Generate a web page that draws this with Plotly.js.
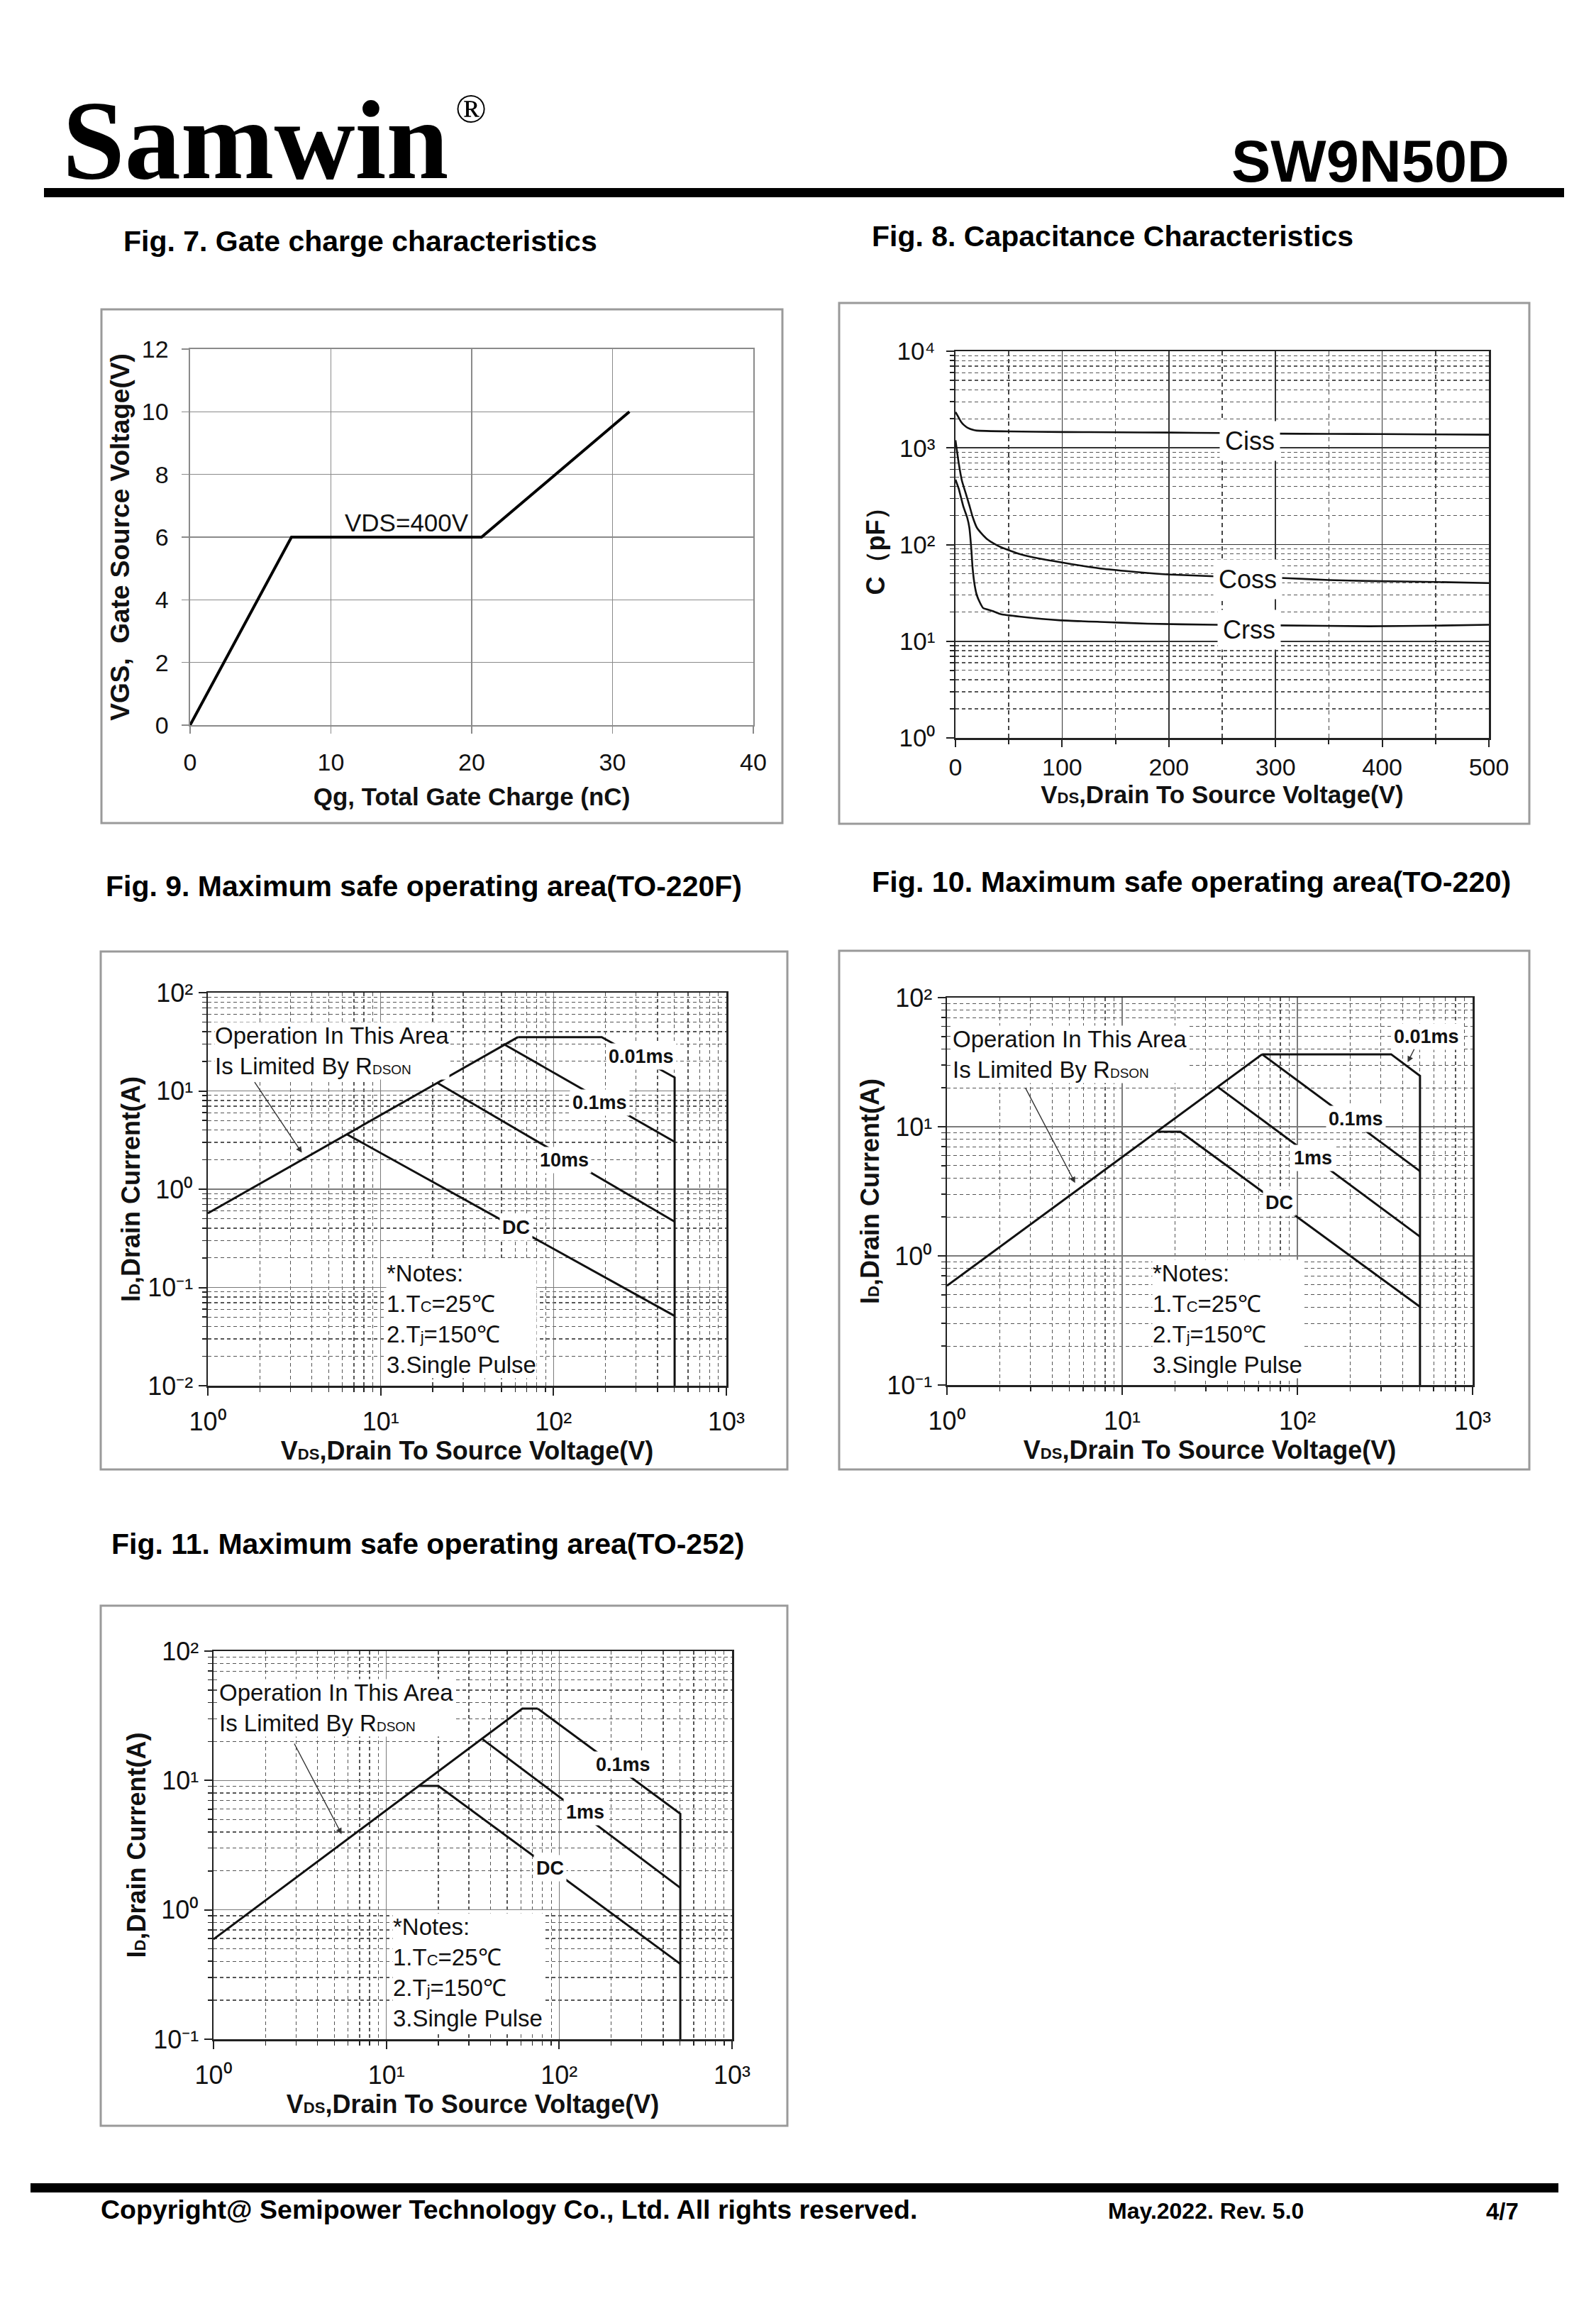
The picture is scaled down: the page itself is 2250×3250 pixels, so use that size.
<!DOCTYPE html>
<html><head><meta charset="utf-8">
<script src="https://cdn.plot.ly/plotly-3.0.1.min.js"></script>
<style>html,body{margin:0;padding:0;background:#fff}</style>
</head><body><div id="chart" style="width:2250px;height:3250px"></div>
<script>
// ---------------- DATA ----------------
// Fig. 7 Gate charge
const fig7_qg  = [0, 7.2, 20.7, 31.2];
const fig7_vgs = [0, 6, 6, 10];
const fig7_xticks = [0, 10, 20, 30, 40];
const fig7_yticks = [0, 2, 4, 6, 8, 10, 12];
const fig7_label = {text: 'VDS=400V', x: 15.4, y: 6.46};

// Fig. 8 Capacitance
const fig8_v_ciss = [0, 2, 5, 8, 12, 17, 20, 50, 100, 150, 200, 250, 300, 350, 400, 450, 500];
const fig8_ciss   = [2350, 2150, 1880, 1720, 1600, 1530, 1510, 1480, 1460, 1450, 1440, 1425, 1405, 1395, 1390, 1380, 1370];
const fig8_v_coss = [0, 3, 6, 9.6, 13, 16, 20, 25, 30, 40, 47, 60, 72, 97, 120, 139, 170, 201, 243, 280, 309, 350, 388, 450, 500];
const fig8_coss   = [1200, 700, 460, 340, 255, 195, 150, 128, 113, 97, 90, 80, 74, 66, 60, 56, 52, 49, 47, 46, 45, 43, 42, 41, 40];
const fig8_v_crss = [0, 3, 7.5, 11, 13, 15, 16, 18, 20, 23, 26, 35, 43, 60, 97, 140, 180, 243, 300, 388, 450, 500];
const fig8_crss   = [470, 380, 245, 190, 150, 85, 58, 38, 30, 25, 22, 20.5, 19, 18, 16.5, 15.8, 15.2, 14.8, 14.6, 14.3, 14.5, 14.8];
const fig8_xticks = [0, 100, 200, 300, 400, 500];
const fig8_xminor = [50, 150, 250, 350, 450];
const fig8_yticks = [1, 10, 100, 1000, 10000];
const fig8_yticktext = ['10⁰', '10¹', '10²', '10³', '10⁴'];
const fig8_labels = [
  {text: 'Ciss', v: 276, c: 1175},
  {text: 'Coss', v: 274, c: 43.8},
  {text: 'Crss', v: 275, c: 13.1}
];

// SOA common ticks
const soa_xticks = [1, 10, 100, 1000];
const soa_xticktext = ['10⁰', '10¹', '10²', '10³'];
const fig9_yticks = [0.01, 0.1, 1, 10, 100];
const fig9_yticktext = ['10⁻²', '10⁻¹', '10⁰', '10¹', '10²'];
const fig10_yticks = [0.1, 1, 10, 100];
const fig10_yticktext = ['10⁻¹', '10⁰', '10¹', '10²'];

// Fig. 9 SOA TO-220F  (V, A)
const fig9_rds_v   = [1, 62.3];          const fig9_rds_i   = [0.569, 35.3];
const fig9_p001_v  = [62.3, 190, 502, 502]; const fig9_p001_i = [35.3, 35.3, 13.7, 0.01];
const fig9_p01_v   = [51.3, 502];        const fig9_p01_i   = [30.1, 3.03];
const fig9_p10_v   = [21.3, 502];        const fig9_p10_i   = [12.06, 0.467];
const fig9_dc_v    = [6.41, 502];        const fig9_dc_i    = [3.6, 0.0513];
const fig9_labels  = [
  {text: '0.01ms', v: 323, i: 22.3},
  {text: '0.1ms',  v: 185, i: 7.57},
  {text: '10ms',   v: 115.6, i: 1.98},
  {text: 'DC',     v: 60.5, i: 0.405}
];
const fig9_oper  = {v: 1.09, i: 25.4};
const fig9_arrow = {v0: 1.83, i0: 12.9, v1: 3.5, i1: 2.35};
const fig9_notes = {v: 10.7, i: 0.0478};

// Fig. 10 SOA TO-220
const fig10_rds_v  = [1, 62.9];              const fig10_rds_i  = [0.587, 36.4];
const fig10_p001_v = [62.9, 343, 501, 501];  const fig10_p001_i = [36.4, 36.4, 24.8, 0.1];
const fig10_p01_v  = [62.9, 501];            const fig10_p01_i  = [36.4, 4.53];
const fig10_p1_v   = [35.0, 501];            const fig10_p1_i   = [20.4, 1.41];
const fig10_dc_v   = [16.1, 21.5, 501];      const fig10_dc_i   = [9.16, 9.16, 0.403];
const fig10_labels = [
  {text: '0.01ms', v: 547, i: 50.1},
  {text: '0.1ms',  v: 215, i: 11.5},
  {text: '1ms',    v: 123, i: 5.7},
  {text: 'DC',     v: 78.5, i: 2.59}
];
const fig10_oper   = {v: 1.07, i: 36.3};
const fig10_arrow  = {v0: 2.75, i0: 21.0, v1: 5.39, i1: 3.67};
const fig10_arrow2 = {v0: 473, i0: 41.9, v1: 426, i1: 31.6};
const fig10_notes  = {v: 14.8, i: 0.324};

// Fig. 11 SOA TO-252
const fig11_rds_v  = [1, 61.2, 75.2];        const fig11_rds_i  = [0.593, 35.9, 35.9];
const fig11_p01_v  = [75.2, 502, 502];       const fig11_p01_i  = [35.9, 5.53, 0.1];
const fig11_p1_v   = [36.1, 502];            const fig11_p1_i   = [20.8, 1.48];
const fig11_dc_v   = [15.4, 20.0, 502];      const fig11_dc_i   = [9.07, 9.07, 0.382];
const fig11_labels = [
  {text: '0.1ms', v: 234, i: 13.3},
  {text: '1ms',   v: 142, i: 5.7},
  {text: 'DC',    v: 88.7, i: 2.10}
];
const fig11_oper  = {v: 1.07, i: 36.2};
const fig11_arrow = {v0: 2.88, i0: 20.2, v1: 5.51, i1: 3.85};
const fig11_notes = {v: 10.8, i: 0.327};

const small = (t, s) => '<span style="font-size:' + s + 'px">' + t + '</span>';
const operText  = 'Operation In This Area<br>Is Limited By R' + small('DSON', 19);
const notesText = '*Notes:<br>1.T' + small('C', 22) + '=25℃<br>2.T' + small('j', 22) + '=150℃<br>3.Single Pulse';
const vdsTitle  = '<b>V' + small('DS', 22) + ',Drain To Source Voltage(V)</b>';
const idTitle   = '<b>I' + small('D', 22) + ',Drain Current(A)</b>';

// ---------------- LAYOUT HELPERS ----------------
const W = 2250, H = 3250;
const px = x => x / W;
const py = y => 1 - y / H;
const L = Math.log10;
const FONT = 'Arial, "Liberation Sans", Helvetica, sans-serif';

function minorLog(lo, hi) {
  const out = [];
  for (let e = lo; e < hi; e++) for (let k = 2; k <= 9; k++) out.push(k * Math.pow(10, e));
  return out;
}

function logAxis(domain, range, tickvals, ticktext, anchor, title, standoff, labelStandoff, majorGrid, tsize) {
  return {
    type: 'log', domain: domain, range: range, anchor: anchor,
    tickmode: 'array', tickvals: tickvals, ticktext: ticktext,
    tickfont: {size: tsize || 34, color: '#111', family: FONT},
    showgrid: true, gridcolor: majorGrid || '#7a7a7a', gridwidth: 1.6,
    minor: {tickmode: 'array', tickvals: minorLog(Math.round(range[0]), Math.round(range[1])),
            showgrid: true, gridcolor: '#555', gridwidth: 1.3, griddash: '5px,4px',
            ticks: 'outside', ticklen: 6, tickcolor: '#222', tickwidth: 1.5},
    showline: true, mirror: true, linecolor: '#222', linewidth: 2.5,
    ticks: 'outside', ticklen: 11, tickcolor: '#222', tickwidth: 2,
    ticklabelstandoff: labelStandoff,
    zeroline: false,
    title: {text: title, font: {size: 36, family: FONT, color: '#111'}, standoff: standoff}
  };
}

function line(x, y, xa, ya, w) {
  return {x: x, y: y, xaxis: xa, yaxis: ya, type: 'scatter', mode: 'lines',
          line: {color: '#111', width: w || 3}, showlegend: false, hoverinfo: 'skip'};
}

const traces = [
  // Fig 7
  {x: fig7_qg, y: fig7_vgs, xaxis: 'x', yaxis: 'y', type: 'scatter', mode: 'lines',
   line: {color: '#000', width: 4}, showlegend: false, hoverinfo: 'skip'},
  // Fig 8
  Object.assign(line(fig8_v_ciss, fig8_ciss, 'x2', 'y2', 2.6), {line: {color: '#111', width: 2.6, shape: 'spline', smoothing: 0.5}}),
  Object.assign(line(fig8_v_coss, fig8_coss, 'x2', 'y2', 2.6), {line: {color: '#111', width: 2.6, shape: 'spline', smoothing: 0.5}}),
  Object.assign(line(fig8_v_crss, fig8_crss, 'x2', 'y2', 2.6), {line: {color: '#111', width: 2.6, shape: 'spline', smoothing: 0.4}}),
  // Fig 9
  line(fig9_rds_v, fig9_rds_i, 'x3', 'y3'),
  line(fig9_p001_v, fig9_p001_i, 'x3', 'y3'),
  line(fig9_p01_v, fig9_p01_i, 'x3', 'y3'),
  line(fig9_p10_v, fig9_p10_i, 'x3', 'y3'),
  line(fig9_dc_v, fig9_dc_i, 'x3', 'y3'),
  // Fig 10
  line(fig10_rds_v, fig10_rds_i, 'x4', 'y4'),
  line(fig10_p001_v, fig10_p001_i, 'x4', 'y4'),
  line(fig10_p01_v, fig10_p01_i, 'x4', 'y4'),
  line(fig10_p1_v, fig10_p1_i, 'x4', 'y4'),
  line(fig10_dc_v, fig10_dc_i, 'x4', 'y4'),
  // Fig 11
  line(fig11_rds_v, fig11_rds_i, 'x5', 'y5'),
  line(fig11_p01_v, fig11_p01_i, 'x5', 'y5'),
  line(fig11_p1_v, fig11_p1_i, 'x5', 'y5'),
  line(fig11_dc_v, fig11_dc_i, 'x5', 'y5')
];

const annotations = [];
function paperText(text, x, y, size, opts) {
  annotations.push(Object.assign({text: text, xref: 'paper', yref: 'paper', x: px(x), y: py(y),
    showarrow: false, xanchor: 'left', yanchor: 'middle',
    font: {size: size, family: FONT, color: '#000'}}, opts || {}));
}
const SERIF = '"Liberation Serif", "Times New Roman", serif';
// Header / footer
paperText('<b>Samwin</b>', 86, 197, 158, {font: {size: 158, family: SERIF, color: '#000'}});
paperText('®', 640, 152, 58, {font: {size: 58, family: SERIF, color: '#000'}});
paperText('<b>SW9N50D</b>', 2130, 228, 83, {xanchor: 'right'});
paperText('<b>Copyright@ Semipower Technology Co., Ltd. All rights reserved.</b>', 140, 3114, 37.5);
paperText('<b>May.2022. Rev. 5.0</b>', 1560, 3116, 32);
paperText('<b>4/7</b>', 2093, 3116, 33);
// Figure titles
paperText('<b>Fig. 7. Gate charge characteristics</b>', 172, 340, 41);
paperText('<b>Fig. 8. Capacitance Characteristics</b>', 1227, 333, 41);
paperText('<b>Fig. 9. Maximum safe operating area(TO-220F)</b>', 147, 1249, 41);
paperText('<b>Fig. 10. Maximum safe operating area(TO-220)</b>', 1227, 1243, 41.3);
paperText('<b>Fig. 11. Maximum safe operating area(TO-252)</b>', 155, 2176, 41);

// Fig 7 label
annotations.push({text: fig7_label.text, x: fig7_label.x, y: fig7_label.y, xref: 'x', yref: 'y',
  showarrow: false, font: {size: 35, family: FONT, color: '#111'}});
// Fig 8 labels
fig8_labels.forEach(l => annotations.push({text: l.text, x: l.v, y: L(l.c), xref: 'x2', yref: 'y2',
  showarrow: false, bgcolor: '#fff', borderpad: 7, font: {size: 36, family: FONT, color: '#111'}}));

function soaAnn(xa, ya, labels, oper, arrow, notes) {
  labels.forEach(l => annotations.push({text: '<b>' + l.text + '</b>', x: L(l.v), y: L(l.i), xref: xa, yref: ya,
    showarrow: false, bgcolor: '#fff', borderpad: 3, font: {size: 27, family: FONT, color: '#111'}}));
  annotations.push({text: operText, x: L(oper.v), y: L(oper.i), xref: xa, yref: ya, showarrow: false,
    xanchor: 'left', yanchor: 'middle', align: 'left', bgcolor: '#fff', borderpad: 0,
    font: {size: 33, family: FONT, color: '#111'}});
  annotations.push({text: notesText, x: L(notes.v), y: L(notes.i), xref: xa, yref: ya, showarrow: false,
    xanchor: 'left', yanchor: 'middle', align: 'left', bgcolor: '#fff', borderpad: 0,
    font: {size: 33, family: FONT, color: '#111'}});
  annotations.push({text: ' ', x: L(arrow.v1), y: L(arrow.i1), ax: L(arrow.v0), ay: L(arrow.i0),
    xref: xa, yref: ya, axref: xa, ayref: ya, showarrow: true, arrowhead: 2, arrowsize: 1.2,
    arrowwidth: 1.4, arrowcolor: '#333', standoff: 0, startstandoff: 0,
    font: {size: 4, family: FONT, color: '#fff'}});
}
soaAnn('x3', 'y3', fig9_labels, fig9_oper, fig9_arrow, fig9_notes);
soaAnn('x4', 'y4', fig10_labels, fig10_oper, fig10_arrow, fig10_notes);
soaAnn('x5', 'y5', fig11_labels, fig11_oper, fig11_arrow, fig11_notes);
annotations.push({text: ' ', x: L(fig10_arrow2.v1), y: L(fig10_arrow2.i1), ax: L(fig10_arrow2.v0), ay: L(fig10_arrow2.i0),
  xref: 'x4', yref: 'y4', axref: 'x4', ayref: 'y4', showarrow: true, arrowhead: 2, arrowsize: 1.2,
  arrowwidth: 1.4, arrowcolor: '#333', standoff: 0, font: {size: 4, family: FONT, color: '#fff'}});

// Shapes: frames and bars
function box(x0, y0, x1, y1) {
  return {type: 'rect', xref: 'paper', yref: 'paper', x0: px(x0), x1: px(x1), y0: py(y1), y1: py(y0),
          line: {color: '#9a9a9a', width: 3}, fillcolor: 'rgba(0,0,0,0)', layer: 'below'};
}
function bar(x0, y0, x1, y1) {
  return {type: 'rect', xref: 'paper', yref: 'paper', x0: px(x0), x1: px(x1), y0: py(y1), y1: py(y0),
          line: {width: 0}, fillcolor: '#000'};
}
const shapes = [
  bar(62, 265, 2205, 278),
  bar(43, 3077, 2197, 3090),
  box(143, 436, 1103, 1160),
  box(1183, 427, 2156, 1161),
  box(142, 1341, 1110, 2071),
  box(1183, 1340, 2156, 2071),
  box(142, 2263, 1110, 2996)
];

const gridGray = '#8a8a8a';
const layout = {
  width: W, height: H, margin: {l: 0, r: 0, t: 0, b: 0},
  paper_bgcolor: '#fff', plot_bgcolor: '#fff',
  font: {family: FONT, color: '#000'},
  showlegend: false,
  // Fig 7
  xaxis: {domain: [px(268), px(1062)], range: [0, 40], anchor: 'y',
    tickmode: 'array', tickvals: fig7_xticks, tickfont: {size: 34, family: FONT, color: '#111'},
    showgrid: true, gridcolor: gridGray, gridwidth: 1.6, zeroline: false,
    showline: true, mirror: true, linecolor: gridGray, linewidth: 1.6,
    ticks: 'outside', ticklen: 10, tickcolor: gridGray, tickwidth: 1.6, ticklabelstandoff: 12,
    title: {text: '<b>Qg, Total Gate Charge (nC)</b>', font: {size: 35, family: FONT, color: '#111'}, standoff: 18}},
  yaxis: {domain: [py(1022), py(492)], range: [0, 12], anchor: 'x',
    tickmode: 'array', tickvals: fig7_yticks, tickfont: {size: 34, family: FONT, color: '#111'},
    showgrid: true, gridcolor: gridGray, gridwidth: 1.6, zeroline: false,
    showline: true, mirror: true, linecolor: gridGray, linewidth: 1.6,
    ticks: 'outside', ticklen: 10, tickcolor: gridGray, tickwidth: 1.6, ticklabelstandoff: 12,
    title: {text: '<b>VGS,  Gate Source Voltage(V)</b>', font: {size: 37, family: FONT, color: '#111'}, standoff: 6}},
  // Fig 8
  xaxis2: {domain: [px(1347), px(2099)], range: [0, 500], anchor: 'y2',
    tickmode: 'array', tickvals: fig8_xticks, tickfont: {size: 34, family: FONT, color: '#111'},
    showgrid: true, gridcolor: '#333', gridwidth: 1.5, zeroline: false,
    minor: {tickmode: 'array', tickvals: fig8_xminor, showgrid: true, gridcolor: '#444', gridwidth: 1.4,
            griddash: '6px,5px', ticks: 'outside', ticklen: 6, tickcolor: '#222'},
    showline: true, mirror: true, linecolor: '#222', linewidth: 2.5,
    ticks: 'outside', ticklen: 10, tickcolor: '#222', tickwidth: 2, ticklabelstandoff: 0,
    title: {text: vdsTitle, font: {size: 35, family: FONT, color: '#111'}, standoff: 8}},
  yaxis2: logAxis([py(1040), py(495)], [0, 4], fig8_yticks, fig8_yticktext, 'x2',
    '<b>C（pF）</b>', 6, 8, '#333', 35),
  // Fig 9
  xaxis3: logAxis([px(293), px(1024)], [0, 3], soa_xticks, soa_xticktext, 'y3', vdsTitle, 8, 6, null, 36),
  yaxis3: logAxis([py(1953), py(1399)], [-2, 2], fig9_yticks, fig9_yticktext, 'x3', idTitle, 0, 0, null, 36),
  // Fig 10
  xaxis4: logAxis([px(1335), px(2076)], [0, 3], soa_xticks, soa_xticktext, 'y4', vdsTitle, 8, 6, null, 36),
  yaxis4: logAxis([py(1952), py(1406)], [-1, 2], fig10_yticks, fig10_yticktext, 'x4', idTitle, 0, 0, null, 36),
  // Fig 11
  xaxis5: logAxis([px(301), px(1032)], [0, 3], soa_xticks, soa_xticktext, 'y5', vdsTitle, 8, 6, null, 36),
  yaxis5: logAxis([py(2874), py(2327)], [-1, 2], fig10_yticks, fig10_yticktext, 'x5', idTitle, 0, 0, null, 36),
  annotations: annotations,
  shapes: shapes
};

Plotly.newPlot('chart', traces, layout, {staticPlot: true, displayModeBar: false});
</script></body></html>
